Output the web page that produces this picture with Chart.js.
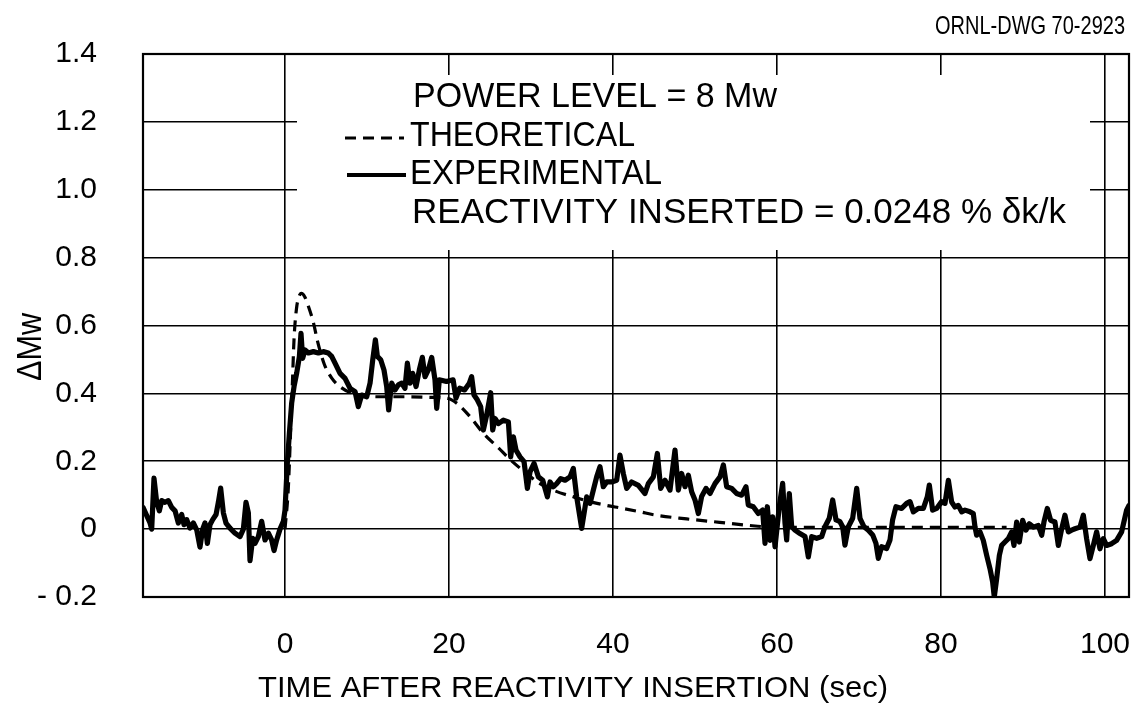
<!DOCTYPE html>
<html>
<head>
<meta charset="utf-8">
<script src="https://cdn.jsdelivr.net/npm/chart.js@4.4.1/dist/chart.umd.min.js"></script>
<style>
  html, body { margin: 0; padding: 0; background: #fff; }
  #wrap { width: 1146px; height: 707px; position: relative; }
</style>
</head>
<body>
<div id="wrap"><canvas id="c" width="1146" height="707"></canvas></div>
<script>
// ---------- data ----------
const xRange = [-17.32, 102.93];
const yRange = [-0.2, 1.4];
const xTickValues = [0, 20, 40, 60, 80, 100];
const xTickLabels = ['0', '20', '40', '60', '80', '100'];
const yTickValues = [-0.2, 0, 0.2, 0.4, 0.6, 0.8, 1.0, 1.2, 1.4];
const yTickLabels = ['- 0.2', '0', '0.2', '0.4', '0.6', '0.8', '1.0', '1.2', '1.4'];

// experimental trace [time (sec), delta Mw]
const experimentalPre = [
  [-17.32,0.064],[-16.46,0.018],[-16.26,0.0],[-15.98,0.15],[-15.65,0.079],[-15.33,0.054],[-15.04,0.084],
  [-14.63,0.079],[-14.23,0.084],[-13.82,0.064],[-13.41,0.054],[-13.01,0.018],[-12.60,0.043],[-12.32,0.013],
  [-11.99,0.028],[-11.59,0.003],[-11.18,0.018],[-10.77,-0.002],[-10.37,-0.053],[-10.04,0.0],[-9.76,0.018],
  [-9.47,-0.042],[-9.15,0.013],[-8.82,0.028],[-8.41,0.043],[-8.13,0.079],[-7.85,0.121],[-7.52,0.048],
  [-7.20,0.018],[-6.71,0.003],[-6.10,-0.012],[-5.49,-0.022],[-5.08,0.0],[-4.76,0.079],[-4.47,0.048],
  [-4.27,-0.093],[-3.94,-0.027],[-3.66,-0.042],[-3.25,-0.022],[-2.85,0.023],[-2.44,-0.032],[-2.03,-0.012],
  [-1.63,-0.032],[-1.34,-0.063],[-1.02,-0.032],[-0.61,0.0],[-0.20,0.023]
];
const experimentalRise = [
  [0.0,0.056],[0.28,0.194],[0.53,0.282],[0.81,0.371],[1.1,0.42],[1.42,0.459],[1.75,0.508],[1.95,0.577],
  [2.15,0.503],[2.44,0.528],[2.85,0.519],[3.46,0.523],[4.07,0.519],[4.67,0.523],[5.28,0.519],[5.69,0.509],
  [6.1,0.489],[6.71,0.459],[7.32,0.444],[7.93,0.415],[8.54,0.405],[8.94,0.361],[9.35,0.395],[9.96,0.39],
  [10.37,0.43],[10.7,0.499],[11.02,0.558],[11.26,0.509],[11.67,0.499],[12.07,0.469],[12.4,0.42],[12.64,0.351],
  [13.01,0.43],[13.41,0.41],[13.82,0.425],[14.23,0.43],[14.63,0.415],[14.92,0.489],[15.24,0.43],[15.57,0.459],
  [15.98,0.42],[16.38,0.469],[16.75,0.506],[17.07,0.449],[17.48,0.469],[17.89,0.506],[18.29,0.44],[18.5,0.356],
  [18.82,0.44]
];
const experimentalDecay = [
  [19.7,0.435],[20.5,0.44],[20.85,0.386],[21.3,0.415],[21.9,0.41],[22.48,0.43],[22.76,0.449],[23.05,0.395],
  [23.45,0.381],[23.86,0.361],[24.19,0.292],[24.59,0.336],[25.08,0.402],[25.33,0.292],[25.61,0.326],[26.02,0.311],
  [26.63,0.321],[27.24,0.316],[27.52,0.213],[27.85,0.272],[28.17,0.233],[28.66,0.213],[29.15,0.199],[29.56,0.12],
  [29.88,0.169],[30.37,0.194],[30.9,0.154],[31.43,0.144],[32.0,0.095],[32.32,0.139],[32.72,0.125],[33.13,0.134],
  [33.62,0.149],[34.15,0.144],[34.76,0.154],[35.16,0.179],[35.57,0.095],[36.18,0.002],[36.79,0.095],[37.2,0.076],
  [37.6,0.115],[38.01,0.154],[38.41,0.184],[38.82,0.125],[39.23,0.139],[39.84,0.139],[40.45,0.144],[40.85,0.218],
  [41.26,0.164],[41.67,0.12],[42.28,0.139],[43.09,0.129],[43.9,0.105],[44.31,0.134],[44.92,0.154],[45.41,0.223],
  [45.82,0.12],[46.34,0.144],[46.95,0.115],[47.56,0.233],[47.97,0.115],[48.37,0.164],[48.78,0.125],[49.19,0.159],
  [49.59,0.11],[50.0,0.086],[50.41,0.046],[50.81,0.096],[51.34,0.12],[51.83,0.105],[52.44,0.134],[53.05,0.154],
  [53.46,0.189],[53.86,0.125],[54.47,0.12],[55.08,0.105],[55.69,0.1],[56.22,0.125],[56.5,0.071],[57.11,0.066],
  [57.72,0.046],[58.25,0.056],[58.54,-0.042],[58.82,0.066],[59.15,-0.033],[59.47,0.036],[59.76,-0.052]
];
const experimentalTail = [
  [60.28,0.066],[60.69,0.135],[60.98,0.017],[61.18,-0.032],[61.5,0.105],[61.79,0.007],[62.2,-0.003],[62.8,-0.013],
  [63.42,-0.022],[63.82,-0.082],[64.23,-0.022],[64.84,-0.027],[65.45,-0.022],[65.85,0.007],[66.38,0.032],[66.79,0.086],
  [67.2,0.027],[67.68,0.022],[68.01,0.007],[68.29,-0.047],[68.7,0.007],[69.23,0.032],[69.72,0.12],[70.12,0.032],
  [70.61,0.007],[71.14,-0.003],[71.67,-0.017],[72.07,-0.042],[72.36,-0.086],[72.76,-0.052],[73.37,-0.057],[73.78,-0.032],
  [74.1,0.027],[74.51,0.066],[75.2,0.061],[75.81,0.076],[76.22,0.081],[76.63,0.051],[77.24,0.061],[77.85,0.061],
  [78.33,0.095],[78.58,0.13],[78.98,0.056],[79.47,0.061],[80.08,0.081],[80.49,0.076],
  [80.9,0.144],[81.3,0.08],[81.71,0.065],[82.11,0.07],[82.52,0.051],[82.93,0.056],[83.54,0.051],[83.94,0.046],
  [84.15,0.006],[84.35,-0.018],[84.76,-0.008],[85.16,-0.033],[85.57,-0.077],[85.98,-0.117],[86.3,-0.156],[86.5,-0.2],
  [86.79,-0.146],[87.12,-0.077],[87.4,-0.048],[87.8,-0.038],[88.21,-0.028],[88.62,-0.008],[88.9,-0.048],[89.23,0.021],
  [89.55,-0.038],[89.96,0.026],[90.37,-0.003],[90.77,0.016],[91.26,0.006],[91.87,0.011],[92.28,-0.018],[92.56,0.021],
  [92.97,0.061],[93.37,0.026],[93.9,0.021],[94.31,-0.048],[94.72,0.001],[95.12,0.041],[95.53,-0.008],[95.93,-0.003],
  [96.34,0.001],[96.95,0.006],[97.36,0.041],[97.76,-0.028],[98.17,-0.087],[98.58,-0.048],[98.98,-0.008],[99.39,-0.058],
  [99.8,-0.028],[100.2,-0.048],[100.81,-0.043],[101.42,-0.033],[102.03,-0.008],[102.64,0.056],[102.93,0.07]
];

// theoretical curve [time (sec), delta Mw]
const theoretical = [
  [0,0],[0.4,0.12],[0.7,0.3],[0.9,0.43],[1.1,0.56],[1.4,0.65],[1.7,0.685],[2.0,0.695],[2.4,0.685],[2.85,0.657],
  [3.45,0.61],[4.0,0.55],[4.8,0.485],[5.7,0.445],[6.7,0.42],[7.9,0.403],[9.5,0.392],[12,0.39],[15,0.39],[18,0.388],
  [19.9,0.385],[21,0.37],[22.4,0.336],[24.2,0.282],[26,0.24],[27.5,0.204],[29.3,0.167],[31.1,0.134],[33,0.112],
  [35.2,0.095],[37,0.082],[39.2,0.07],[41,0.062],[43.3,0.051],[45,0.042],[49,0.03],[53,0.02],[57,0.01],[60,0.005],[88,0.005]
];

const noteLines = ['POWER LEVEL = 8 Mw', 'THEORETICAL', 'EXPERIMENTAL', 'REACTIVITY INSERTED = 0.0248 % \u03B4k/k'];
const drawingNumber = 'ORNL-DWG 70-2923';
const xTitle = 'TIME AFTER REACTIVITY INSERTION (sec)';
const yTitle = '\u0394Mw';

// ---------- rendering ----------
const FONT = '"Liberation Sans", Arial, sans-serif';
const toXY = arr => arr.map(p => ({ x: p[0], y: p[1] }));
const experimental = [].concat(experimentalPre, experimentalRise, experimentalDecay, experimentalTail);

function fitText(ctx, text, x, y, width, size, align) {
  ctx.save();
  ctx.font = size + 'px ' + FONT;
  ctx.textBaseline = 'middle';
  ctx.textAlign = 'left';
  ctx.fillStyle = '#000';
  const w = ctx.measureText(text).width;
  const sx = width / w;
  let x0 = x;
  if (align === 'center') x0 = x - width / 2;
  ctx.translate(x0, y);
  ctx.scale(sx, 1);
  ctx.fillText(text, 0, 0);
  ctx.restore();
}

const decor = {
  id: 'decor',
  beforeDatasetsDraw(chart) {
    const { ctx, chartArea: a } = chart;
    ctx.save();
    // blank area behind the annotation block
    ctx.fillStyle = '#fff';
    ctx.fillRect(297, 75, 1090 - 297, 250 - 75);
    // plot frame
    ctx.strokeStyle = '#000';
    ctx.lineWidth = 2.2;
    ctx.strokeRect(a.left, a.top, a.right - a.left, a.bottom - a.top);
    ctx.restore();
  },
  afterDraw(chart) {
    const ctx = chart.ctx;
    // drawing number
    fitText(ctx, drawingNumber, 935, 27, 190, 26, 'left');
    // annotation block
    fitText(ctx, noteLines[0], 413, 97, 364, 35, 'left');
    fitText(ctx, noteLines[1], 410, 136, 225, 35, 'left');
    fitText(ctx, noteLines[2], 410, 174, 252, 35, 'left');
    fitText(ctx, noteLines[3], 412, 213, 654, 35, 'left');
    // legend samples
    ctx.save();
    ctx.strokeStyle = '#000';
    ctx.lineWidth = 3.2;
    ctx.setLineDash([11, 7]);
    ctx.beginPath(); ctx.moveTo(345, 138); ctx.lineTo(404, 138); ctx.stroke();
    ctx.setLineDash([]);
    ctx.lineWidth = 3.8;
    ctx.beginPath(); ctx.moveTo(347, 175); ctx.lineTo(406, 175); ctx.stroke();
    ctx.restore();
    // axis titles
    fitText(ctx, xTitle, 258, 689, 630, 30, 'left');
    ctx.save();
    ctx.translate(31, 347);
    ctx.rotate(-Math.PI / 2);
    fitText(ctx, yTitle, 0, 0, 68, 35, 'center');
    ctx.restore();
  }
};

new Chart(document.getElementById('c'), {
  type: 'line',
  data: {
    datasets: [
      {
        label: 'EXPERIMENTAL',
        data: toXY(experimental),
        borderColor: '#000',
        borderWidth: 5.2,
        borderJoinStyle: 'round',
        borderCapStyle: 'round',
        pointRadius: 0,
        tension: 0,
        fill: false
      },
      {
        label: 'THEORETICAL',
        data: toXY(theoretical),
        borderColor: '#000',
        borderWidth: 3.2,
        borderDash: [11, 7],
        pointRadius: 0,
        cubicInterpolationMode: 'monotone',
        fill: false
      }
    ]
  },
  options: {
    responsive: false,
    animation: false,
    devicePixelRatio: 1,
    layout: { padding: { top: 54, right: 17, left: 0, bottom: 0 } },
    plugins: { legend: { display: false }, tooltip: { enabled: false }, title: { display: false } },
    scales: {
      x: {
        type: 'linear',
        min: xRange[0],
        max: xRange[1],
        afterBuildTicks: s => { s.ticks = xTickValues.map(v => ({ value: v })); },
        afterFit: s => { s.height = 110; s.paddingLeft = 0; s.paddingRight = 0; },
        ticks: {
          color: '#000',
          padding: 30,
          maxRotation: 0,
          autoSkip: false,
          font: { family: FONT, size: 30 },
          callback: v => xTickLabels[xTickValues.indexOf(v)]
        },
        grid: { color: '#000', lineWidth: 1.6, drawTicks: false },
        border: { display: false }
      },
      y: {
        type: 'linear',
        min: yRange[0],
        max: yRange[1],
        afterBuildTicks: s => { s.ticks = yTickValues.map(v => ({ value: v })); },
        afterFit: s => { s.width = 143; s.paddingTop = 0; s.paddingBottom = 0; },
        ticks: {
          color: '#000',
          padding: 46,
          autoSkip: false,
          font: { family: FONT, size: 30 },
          callback: v => yTickLabels[yTickValues.indexOf(v)]
        },
        grid: { color: '#000', lineWidth: 1.6, drawTicks: false },
        border: { display: false }
      }
    }
  },
  plugins: [decor]
});
</script>
</body>
</html>
